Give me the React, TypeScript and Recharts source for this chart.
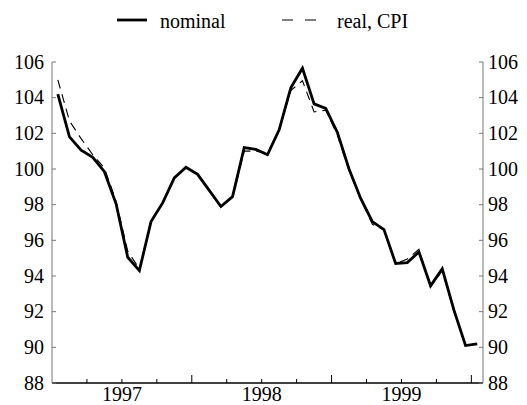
import { LineChart, Line, XAxis, YAxis, Legend } from 'recharts';

const FONT = '"Liberation Serif", "Times New Roman", serif';

const months = [
  '1997-01', '1997-02', '1997-03', '1997-04', '1997-05', '1997-06',
  '1997-07', '1997-08', '1997-09', '1997-10', '1997-11', '1997-12',
  '1998-01', '1998-02', '1998-03', '1998-04', '1998-05', '1998-06',
  '1998-07', '1998-08', '1998-09', '1998-10', '1998-11', '1998-12',
  '1999-01', '1999-02', '1999-03', '1999-04', '1999-05', '1999-06',
  '1999-07', '1999-08', '1999-09', '1999-10', '1999-11', '1999-12',
  '2000-01',
];

const nominal = [
  104.2, 101.8, 101.05, 100.65, 99.85, 98.05, 95.05, 94.3, 97.05, 98.1, 99.5, 100.1,
  99.7, 98.8, 97.9, 98.45, 101.2, 101.1, 100.8, 102.2, 104.55, 105.65, 103.65, 103.4,
  102.05, 100.0, 98.35, 97.05, 96.6, 94.7, 94.75, 95.35, 93.45, 94.4, 92.1, 90.1,
  90.2,
];

const realCpi = [
  105.0, 102.7, 101.7, 100.8, 100.05, 98.2, 95.4, 94.4, 97.0, 98.1, 99.5, 100.05,
  99.7, 98.8, 97.9, 98.4, 101.0, 101.0, 100.9, 102.2, 104.4, 104.95, 103.2, 103.3,
  101.9, 99.9, 98.3, 96.9, 96.6, 94.7, 94.95, 95.5, 93.4, 94.3, 92.0, 90.1,
  90.2,
];

const yTicks = [88, 90, 92, 94, 96, 98, 100, 102, 104, 106];
const quarterTicks = [3, 6, 9, 12, 15, 18, 21, 24, 27, 30, 33, 36];
const yearLabels: Record<number, string> = { 6: '1997', 18: '1998', 30: '1999' };

// month i is drawn in the middle of its slot
const data = months.map((m, i) => ({ month: m, t: i + 0.5, nominal: nominal[i], real: realCpi[i] }));

const LeftTick = ({ x, y, payload }: any) => (
  <g>
    <line x1={x} y1={y} x2={x + 4} y2={y} stroke="#777" />
    <text x={x - 8} y={y} dy="0.34em" textAnchor="end" fontSize={20} fontFamily={FONT} fill="#000">
      {payload.value}
    </text>
  </g>
);

const RightTick = ({ x, y, payload }: any) => (
  <g>
    <line x1={x} y1={y} x2={x - 4} y2={y} stroke="#777" />
    <text x={x + 5} y={y} dy="0.34em" textAnchor="start" fontSize={20} fontFamily={FONT} fill="#000">
      {payload.value}
    </text>
  </g>
);

const BottomTick = ({ x, y, payload }: any) => {
  const v = payload.value;
  const len = v % 12 === 0 ? 8 : 4;
  return (
    <g>
      <line x1={x} y1={y} x2={x} y2={y - len} stroke="#000" />
      {yearLabels[v] && (
        <text x={x} y={y + 18} textAnchor="middle" fontSize={20} fontFamily={FONT} fill="#000">
          {yearLabels[v]}
        </text>
      )}
    </g>
  );
};

const LegendContent = () => (
  <svg width={527} height={40} style={{ display: 'block' }}>
    <line x1={117} y1={20} x2={147} y2={20} stroke="#000" strokeWidth={2.8} />
    <text x={160} y={28} fontSize={20} fontFamily={FONT} fill="#000">nominal</text>
    <line x1={282} y1={20} x2={318} y2={20} stroke="#000" strokeWidth={1.1} strokeDasharray="11 12" />
    <text x={337} y={28} fontSize={20} fontFamily={FONT} fill="#000">real, CPI</text>
  </svg>
);

export default function App() {
  return (
    <div style={{ position: 'absolute', left: 0, top: 0, background: '#fff' }}>
      <LineChart width={527} height={405} data={data} margin={{ top: 62, right: 0, bottom: 0, left: 0 }}>
        <XAxis
          dataKey="t"
          type="number"
          domain={[0, 37]}
          ticks={quarterTicks}
          interval={0}
          height={22}
          tickSize={0}
          tickMargin={0}
          tickLine={false}
          axisLine={{ stroke: '#000', strokeWidth: 1.3 }}
          tick={<BottomTick />}
        />
        <YAxis
          yAxisId="left"
          orientation="left"
          domain={[88, 106]}
          ticks={yTicks}
          interval={0}
          width={52}
          tickSize={0}
          tickMargin={0}
          tickLine={false}
          axisLine={{ stroke: '#777' }}
          tick={<LeftTick />}
        />
        <YAxis
          yAxisId="right"
          orientation="right"
          domain={[88, 106]}
          ticks={yTicks}
          interval={0}
          width={44}
          tickSize={0}
          tickMargin={0}
          tickLine={false}
          axisLine={{ stroke: '#777' }}
          tick={<RightTick />}
        />
        <Legend
          verticalAlign="middle"
          align="center"
          layout="horizontal"
          wrapperStyle={{ top: 0, left: 0, width: 527, height: 40 }}
          content={<LegendContent />}
        />
        <Line
          yAxisId="left"
          type="linear"
          dataKey="nominal"
          name="nominal"
          stroke="#000"
          strokeWidth={2.8}
          dot={false}
          isAnimationActive={false}
        />
        {/* same domain as the left axis, so this also gives the right axis its ticks */}
        <Line
          yAxisId="right"
          type="linear"
          dataKey="real"
          name="real, CPI"
          stroke="#000"
          strokeWidth={1.1}
          strokeDasharray="9 6"
          dot={false}
          isAnimationActive={false}
        />
      </LineChart>
    </div>
  );
}
